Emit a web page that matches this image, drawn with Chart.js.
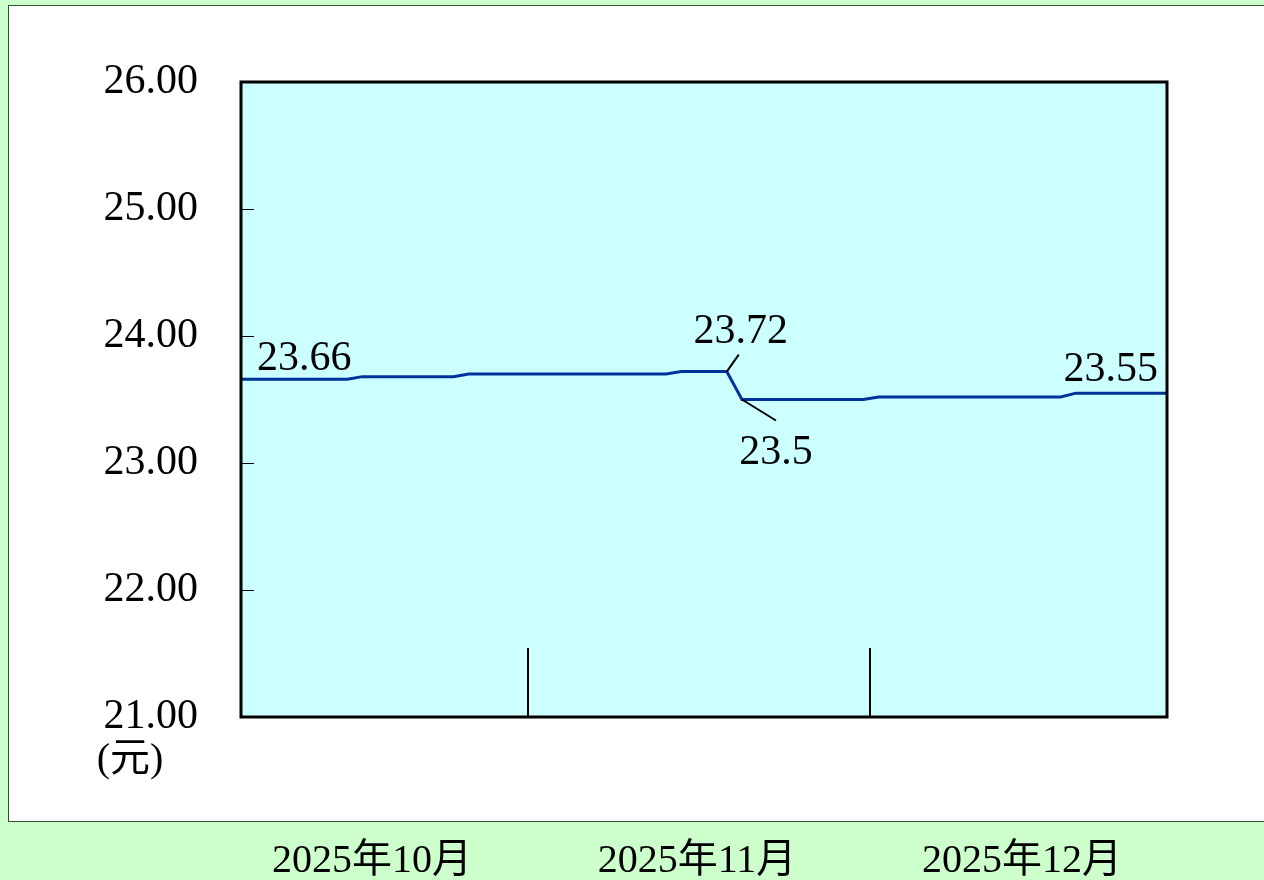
<!DOCTYPE html>
<html>
<head>
<meta charset="utf-8">
<script src="https://cdn.jsdelivr.net/npm/chart.js@4"></script>
<style>
  html, body { margin: 0; padding: 0; background: #ccffcc; }
  canvas { display: block; }
</style>
</head>
<body>
<canvas id="chart" width="1264" height="880"></canvas>
<script>
// daily closing values
const values = [
  23.66, 23.66, 23.66, 23.66, 23.66, 23.66, 23.66, 23.66,
  23.68, 23.68, 23.68, 23.68, 23.68, 23.68, 23.68,
  23.70, 23.70, 23.70, 23.70, 23.70, 23.70, 23.70, 23.70, 23.70, 23.70, 23.70, 23.70, 23.70, 23.70,
  23.72, 23.72, 23.72, 23.72,
  23.50, 23.50, 23.50, 23.50, 23.50, 23.50, 23.50, 23.50, 23.50,
  23.52, 23.52, 23.52, 23.52, 23.52, 23.52, 23.52, 23.52, 23.52, 23.52, 23.52, 23.52, 23.52,
  23.55, 23.55, 23.55, 23.55, 23.55, 23.55, 23.55
];
const days = values.map((v, i) => i);

const monthLabels = ['2025年10月', '2025年11月', '2025年12月'];
// month boundaries, in day-index units
const monthBreaks = [18.9, 41.45];

// labelled points: index, text
const callouts = [
  { i: 0, text: '23.66' },
  { i: 32, text: '23.72' },
  { i: 33, text: '23.5' },
  { i: 61, text: '23.55' }
];

const yMin = 21, yMax = 26;
const serif = '"Liberation Serif", "Times New Roman", "Noto Sans CJK SC", serif';

const decor = {
  id: 'decor',
  beforeDraw(chart) {
    const { ctx, chartArea: a } = chart;
    ctx.save();
    ctx.fillStyle = '#ccffcc';
    ctx.fillRect(0, 0, chart.width, chart.height);
    // white panel
    ctx.fillStyle = '#ffffff';
    ctx.fillRect(8.5, 5.5, chart.width, 816);
    ctx.strokeStyle = '#2f4f2f';
    ctx.lineWidth = 1;
    ctx.strokeRect(8.5, 5.5, chart.width, 816);
    // plot background
    ctx.fillStyle = '#ccffff';
    ctx.fillRect(a.left, a.top, a.right - a.left, a.bottom - a.top);
    ctx.restore();
  },
  afterDatasetsDraw(chart) {
    const { ctx, chartArea: a, scales: { x, y } } = chart;
    const pts = chart.getDatasetMeta(0).data;
    ctx.save();

    // inner y ticks
    ctx.strokeStyle = '#000';
    ctx.lineWidth = 1;
    y.ticks.forEach(t => {
      const py = Math.round(y.getPixelForValue(t.value)) + 0.5;
      ctx.beginPath();
      ctx.moveTo(a.left, py);
      ctx.lineTo(a.left + 13, py);
      ctx.stroke();
    });

    // month separators
    ctx.lineWidth = 2;
    monthBreaks.forEach(m => {
      const px = Math.round(x.getPixelForValue(m));
      ctx.beginPath();
      ctx.moveTo(px, a.bottom);
      ctx.lineTo(px, a.bottom - 69);
      ctx.stroke();
    });

    // plot border
    ctx.lineWidth = 3;
    ctx.strokeRect(a.left, a.top, a.right - a.left, a.bottom - a.top);

    // callouts
    ctx.fillStyle = '#000';
    ctx.font = '42px ' + serif;
    ctx.textBaseline = 'alphabetic';
    ctx.lineWidth = 2;
    callouts.forEach((c, k) => {
      const p = pts[c.i];
      if (k === 0) {
        ctx.textAlign = 'left';
        ctx.fillText(c.text, p.x + 16, p.y - 9);
      } else if (k === 1) {
        ctx.beginPath();
        ctx.moveTo(p.x, p.y);
        ctx.lineTo(p.x + 12, p.y - 17);
        ctx.stroke();
        ctx.textAlign = 'center';
        ctx.fillText(c.text, p.x + 14, p.y - 29);
      } else if (k === 2) {
        ctx.beginPath();
        ctx.moveTo(p.x, p.y);
        ctx.lineTo(p.x + 34, p.y + 21);
        ctx.stroke();
        ctx.textAlign = 'center';
        ctx.fillText(c.text, p.x + 34, p.y + 64);
      } else {
        ctx.textAlign = 'right';
        ctx.fillText(c.text, p.x - 9, p.y - 12);
      }
    });

    // unit
    ctx.font = '40px ' + serif;
    ctx.textAlign = 'center';
    ctx.fillText('(元)', 130, 771);

    // month labels
    ctx.font = '40px ' + serif;
    monthLabels.forEach((m, i) => {
      ctx.fillText(m, 372 + i * 325, 872);
    });

    ctx.restore();
  }
};

new Chart(document.getElementById('chart'), {
  type: 'line',
  data: {
    labels: days,
    datasets: [{
      data: values,
      borderColor: '#003399',
      borderWidth: 3,
      pointRadius: 0,
      tension: 0,
      fill: false
    }]
  },
  options: {
    responsive: false,
    animation: false,
    devicePixelRatio: 1,
    layout: { padding: { left: 0, right: 97, top: 82, bottom: 163 } },
    scales: {
      x: { display: false },
      y: {
        min: yMin,
        max: yMax,
        afterFit: (s) => { s.width = 241; },
        ticks: {
          stepSize: 1,
          padding: 43,
          color: '#000',
          font: { family: serif, size: 42 },
          callback: (v) => v.toFixed(2)
        },
        grid: { display: false, drawTicks: false },
        border: { display: false }
      }
    },
    plugins: {
      legend: { display: false },
      tooltip: { enabled: false }
    }
  },
  plugins: [decor]
});
</script>
</body>
</html>
